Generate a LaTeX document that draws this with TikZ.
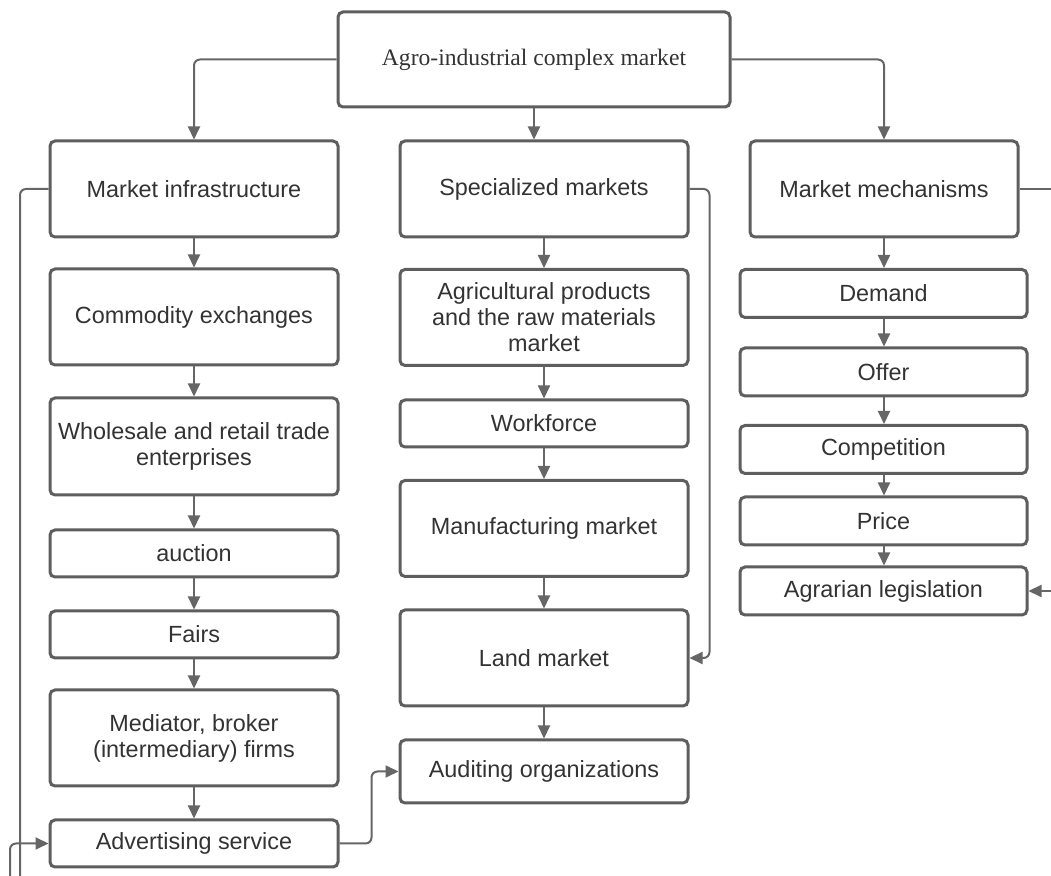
\documentclass[tikz,border=0pt]{standalone}
\usepackage{fontspec}
\setmainfont{Liberation Sans}
\newfontfamily\topfont{Liberation Serif}
\usepackage{xcolor}
\usepackage{tikz}
\usetikzlibrary{
	arrows.meta,
	positioning,
}
\definecolor{boxline}{rgb}{0.37, 0.37, 0.37}
\definecolor{boxtext}{rgb}{0.2, 0.2, 0.2}
\definecolor{connline}{rgb}{0.4, 0.4, 0.4}

\begin{document}
\begin{tikzpicture}[x=0.5pt, y=-0.5pt,
	box/.style={draw=boxline, line width=1.5pt, rounded corners=2.5pt, fill=white,
		text=boxtext, align=center, font=\fontsize{11.7}{13}\selectfont,
		minimum width=144pt, minimum height=48pt, inner sep=2pt},
	thinbox/.style={box, minimum height=23.5pt},
	mechbox/.style={box, minimum width=143.5pt, minimum height=24pt},
	conn/.style={draw=connline, line width=1pt, rounded corners=3pt,
		-{Triangle[length=6.5pt, width=6pt]}},
	plain/.style={draw=connline, line width=1pt, rounded corners=3pt}]
\useasboundingbox (0,0) rectangle (1051,876);

% root
\node[box, minimum width=196pt, minimum height=47.5pt, font=\topfont\fontsize{11.8}{13}\selectfont] (root) at (534,59.5) {Agro-industrial complex market};

% groups
\node[box] (infra) at (194,189) {Market infrastructure};
\node[box] (spec) at (544,189) {Specialized markets};
\node[box, minimum width=134pt] (mech) at (884,189) {Market mechanisms};

% left column
\node[box] (comm) at (194,317) {Commodity exchanges};
\node[box, minimum height=48.5pt] (whole) at (194,446.5) {Wholesale and retail trade\\enterprises};
\node[thinbox] (auction) at (194,553.5) {auction};
\node[thinbox] (fairs) at (194,634.5) {Fairs};
\node[box] (broker) at (194,738) {Mediator, broker\\(intermediary) firms};
\node[thinbox] (advert) at (194,843.5) {Advertising service};

% middle column
\node[box] (agri) at (544,317.5) {Agricultural products\\and the raw materials\\market};
\node[thinbox] (work) at (544,423.5) {Workforce};
\node[box] (manuf) at (544,528.5) {Manufacturing market};
\node[box] (land) at (544,658) {Land market};
\node[box, minimum height=31.5pt] (audit) at (544,771.5) {Auditing organizations};

% right column
\node[mechbox] (demand) at (883.5,293.5) {Demand};
\node[mechbox] (offer) at (883.5,372) {Offer};
\node[mechbox] (compet) at (883.5,449.5) {Competition};
\node[mechbox] (price) at (883.5,521) {Price};
\node[mechbox] (legis) at (883.5,591) {Agrarian legislation};

% root to groups
\draw[conn] (root.west) -| (infra.north);
\draw[conn] (root.south) -- (root.south |- spec.north);
\draw[conn] (root.east) -| (mech.north);

% chains
\draw[conn] (infra) -- (comm);
\draw[conn] (comm) -- (whole);
\draw[conn] (whole) -- (auction);
\draw[conn] (auction) -- (fairs);
\draw[conn] (fairs) -- (broker);
\draw[conn] (broker) -- (advert);

\draw[conn] (spec) -- (agri);
\draw[conn] (agri) -- (work);
\draw[conn] (work) -- (manuf);
\draw[conn] (manuf) -- (land);
\draw[conn] (land) -- (audit);

\draw[conn] (mech.south) -- (mech.south |- demand.north);
\draw[conn] (demand.south -| mech.south) -- (offer.north -| mech.south);
\draw[conn] (offer.south -| mech.south) -- (compet.north -| mech.south);
\draw[conn] (compet.south -| mech.south) -- (price.north -| mech.south);
\draw[conn] (price.south -| mech.south) -- (legis.north -| mech.south);

% side links
\draw[conn] (spec.east) -- ++(20,0) |- (land.east);
\draw[conn] (advert.east) -- ++(32,0) |- (audit.west);

% links leaving the page
\coordinate (offL) at (20,876);
\coordinate (offB) at (10,876);
\coordinate (offR) at (1051,189);
\coordinate (inR) at (1051,591);
\draw[plain] (infra.west) -| (offL);
\draw[conn] (offB) |- (advert.west);
\draw[plain] (mech.east) -- (offR);
\draw[conn] (inR) -- (legis.east);
\end{tikzpicture}
\end{document}
